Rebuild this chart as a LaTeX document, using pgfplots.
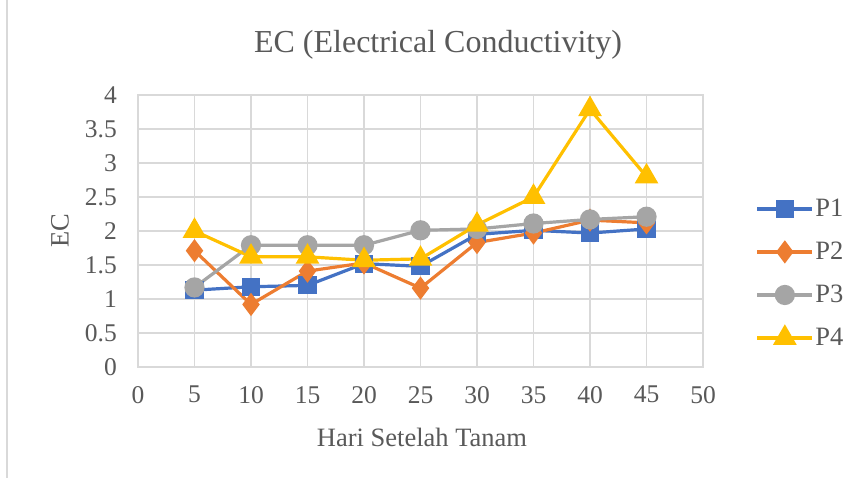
\documentclass[border=0pt]{standalone}
\usepackage{pgfplots}
\pgfplotsset{compat=1.18}
\usepackage{fontspec}
\setmainfont{Liberation Serif}
\definecolor{cP1}{HTML}{4472C4}
\definecolor{cP2}{HTML}{ED7D31}
\definecolor{cP3}{HTML}{A5A5A5}
\definecolor{cP4}{HTML}{FFC000}
\definecolor{gridc}{HTML}{D9D9D9}
\definecolor{txt}{HTML}{595959}
\begin{document}
\begin{tikzpicture}[x=1bp,y=1bp]
\useasboundingbox (0,0) rectangle (857,478);
\fill[white] (0,0) rectangle (857,478);
\draw[gridc, line width=1.5bp] (7,0) -- (7,478);
\begin{axis}[
  at={(138bp,111bp)}, anchor=south west,
  scale only axis, width=565bp, height=272bp,
  xmin=0, xmax=50, ymin=0, ymax=4,
  xtick={0,5,...,50}, ytick={0,0.5,...,4},
  yticklabels={0,0.5,1,1.5,2,2.5,3,3.5,4},
  grid=major,
  major grid style={gridc, line width=1.3bp},
  axis line style={gridc, line width=1.3bp},
  tick style={draw=none},
  /pgf/number format/assume math mode=true,
  tick label style={font=\fontsize{25.5bp}{28bp}\selectfont, text=txt},
  xticklabel style={inner sep=0pt, yshift=-19bp},
  yticklabel style={inner sep=0pt, xshift=-21bp},
  legend style={draw=none, fill=none, at={(1.093,0.344)}, anchor=west,
    font=\fontsize{26.5bp}{28bp}\selectfont, text=txt,
    row sep=21bp, inner sep=0pt,
    nodes={inner sep=1.5bp}},
  legend cell align=left,
  legend image code/.code={\draw[mark repeat=2,mark phase=2] plot coordinates {(0bp,0bp) (27.5bp,0bp) (55bp,0bp)};},
  every axis plot/.append style={line width=3.2bp},
  clip=false,
]
\addplot[cP1, mark=square*, mark size=7.5bp, mark options={solid}] coordinates {
(5,1.13) (10,1.18) (15,1.2) (20,1.52) (25,1.48) (30,1.95) (35,2.01) (40,1.97) (45,2.03)};
\addlegendentry{P1}
\addplot[cP2, mark=diamond*, mark size=9bp, mark options={solid}] coordinates {
(5,1.71) (10,0.92) (15,1.41) (20,1.53) (25,1.16) (30,1.83) (35,1.97) (40,2.16) (45,2.12)};
\addlegendentry{P2}
\addplot[cP3, mark=*, mark size=8.5bp, mark options={solid}] coordinates {
(5,1.17) (10,1.79) (15,1.79) (20,1.79) (25,2.01) (30,2.03) (35,2.11) (40,2.17) (45,2.21)};
\addlegendentry{P3}
\addplot[cP4, mark=triangle*, mark size=10.5bp, mark options={solid}] coordinates {
(5,2.0) (10,1.62) (15,1.62) (20,1.57) (25,1.59) (30,2.09) (35,2.5) (40,3.79) (45,2.8)};
\addlegendentry{P4}
\end{axis}
\node[text=txt, font=\fontsize{32bp}{34bp}\selectfont] at (438,433) {EC (Electrical Conductivity)};
\node[text=txt, font=\fontsize{26.5bp}{28bp}\selectfont] at (422,41) {Hari Setelah Tanam};
\node[text=txt, font=\fontsize{26.5bp}{28bp}\selectfont, rotate=90] at (60,247) {EC};
\end{tikzpicture}
\end{document}
